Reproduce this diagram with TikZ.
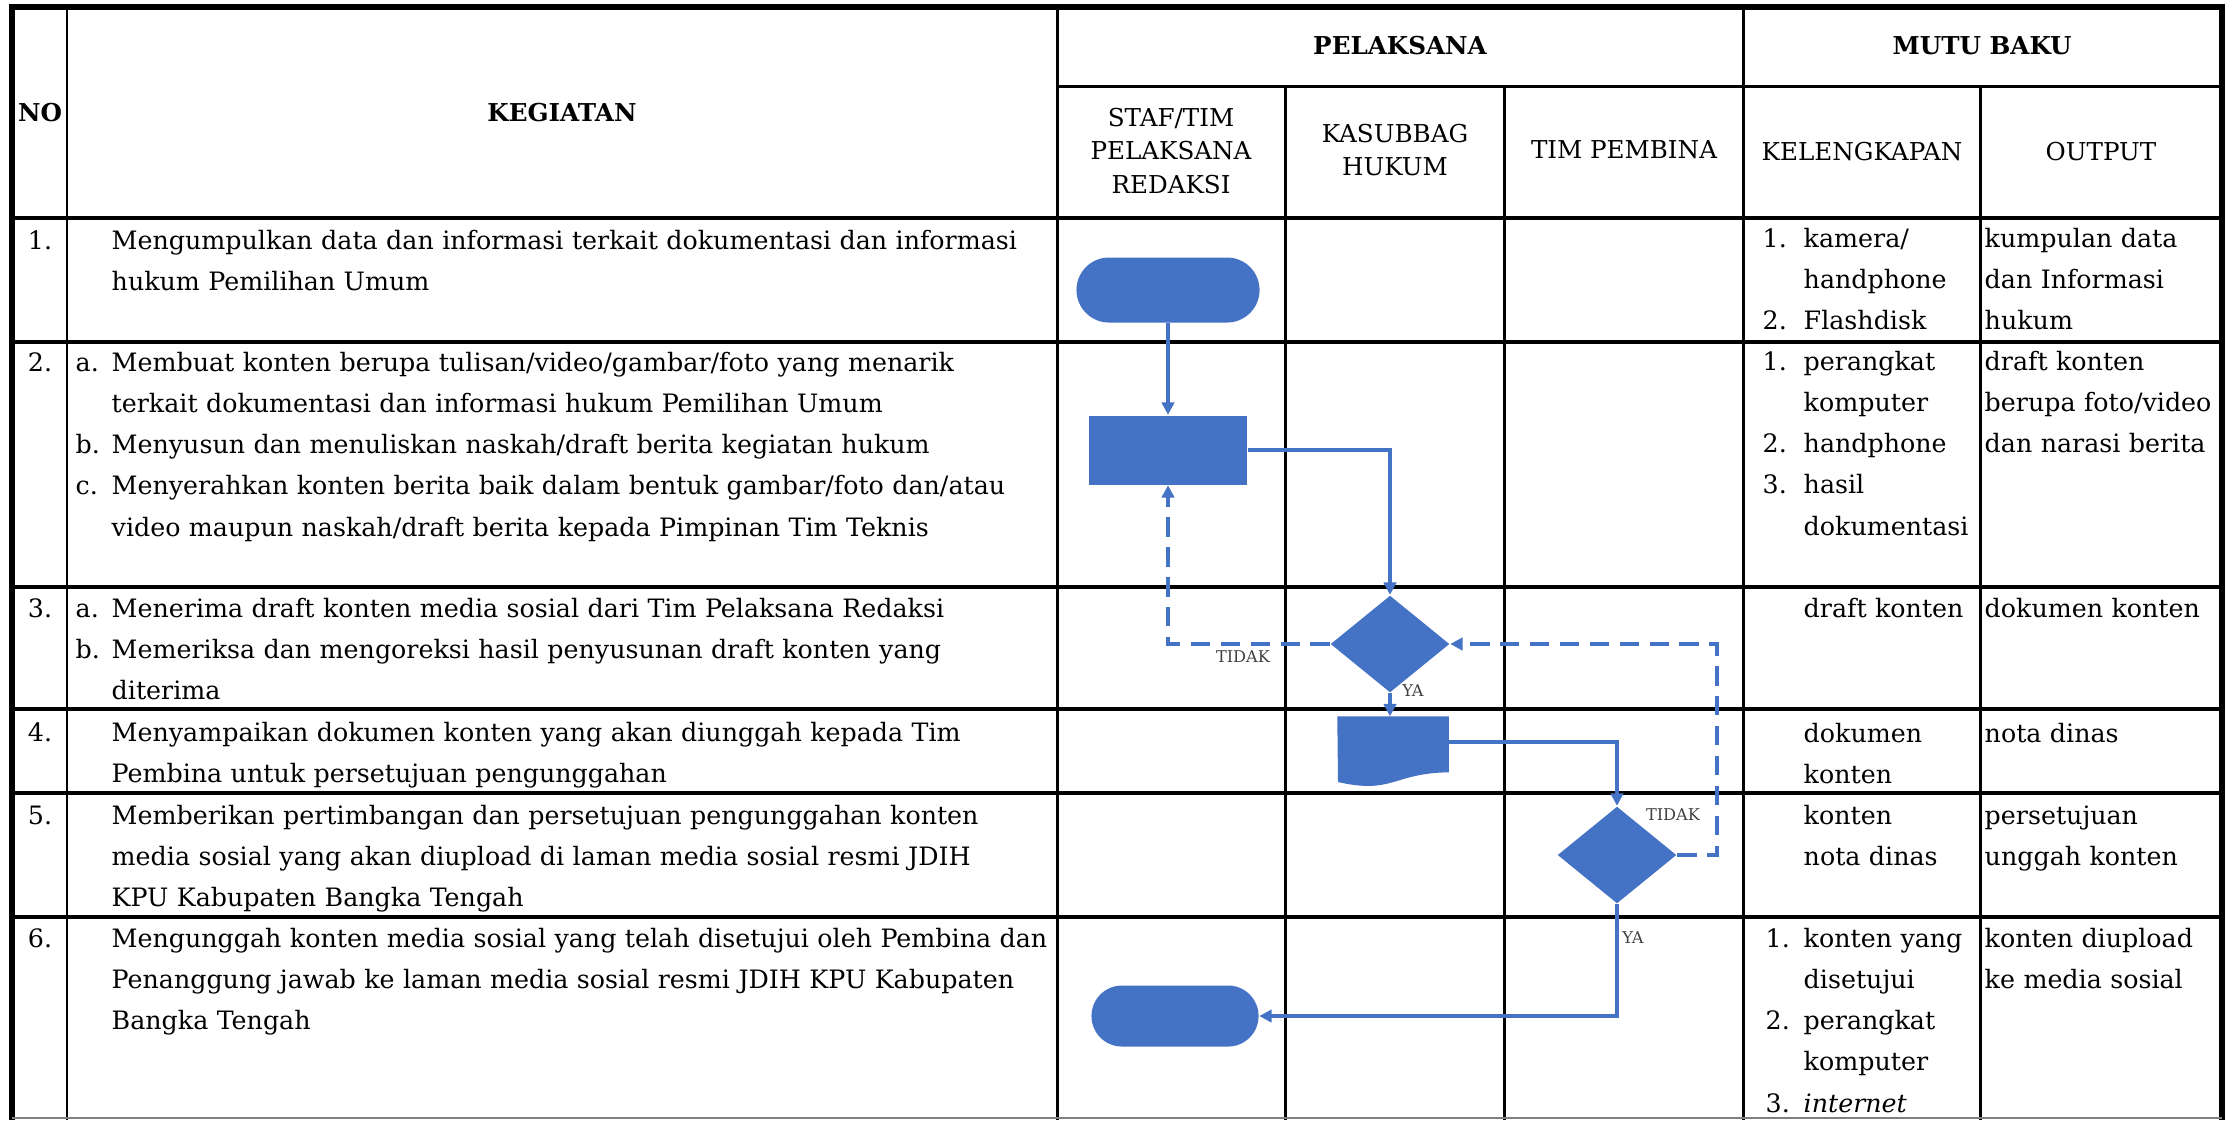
\documentclass[tikz,border=0pt]{standalone}
\usepackage{fontspec}
\setmainfont{DejaVu Serif}
\usetikzlibrary{arrows.meta,shapes.geometric,shapes.misc}
\definecolor{flowblue}{RGB}{68,114,196}

\begin{document}
\begin{tikzpicture}[x=0.01cm,y=-0.01cm,font=\fontsize{7.2}{11.75}\selectfont,
ln/.style={line width=.85pt},
rowln/.style={line width=1pt},
rim/.style={line width=1.5pt},
txt/.style={anchor=base west,inner sep=0pt,align=left,text width=#1,font=\fontsize{7.2}{11.75}\selectfont},
num/.style={anchor=base,inner sep=0pt,font=\fontsize{7.2}{11.75}\selectfont},
hd/.style={font=\fontsize{7}{9.4}\selectfont,align=center,inner sep=0pt},
bhd/.style={font=\fontsize{7}{9.4}\bfseries\selectfont,inner sep=0pt},
term/.style={rounded rectangle,fill=flowblue,minimum width=1.83cm,minimum height=.65cm,inner sep=0pt},
proc/.style={rectangle,fill=flowblue,minimum width=1.58cm,minimum height=.69cm,inner sep=0pt},
dec/.style={diamond,fill=flowblue,minimum width=1.19cm,minimum height=.97cm,inner sep=0pt},
flow/.style={-{Triangle[length=3.5pt,width=3.5pt]},line width=.9pt,draw=flowblue},
retry/.style={flow,dash pattern=on 5.5pt off 3pt},
tag/.style={font=\fontsize{4.6}{5}\selectfont,text=black!75,inner sep=0pt}]
\useasboundingbox(0,0)rectangle(2231,1120);

\draw[ln](1057,86)--(2222,86);
\foreach \y in {218,342,587,709,793,917} \draw[rowln](12,\y)--(2222,\y);
\foreach \x in {67,1057,1743} \draw[ln](\x,7)--(\x,1120);
\foreach \x in {1285,1504,1980} \draw[ln](\x,86)--(\x,1120);
\draw[rim](12,1120)--(12,7)--(2222,7)--(2222,1120);
\draw[gray,line width=.4pt](12,1118)--(2222,1118);

\node[bhd](no)at(40,113){NO};
\node[bhd](keg)at(562,113){KEGIATAN};
\node[bhd](pel)at(1400,46){PELAKSANA};
\node[bhd](mutu)at(1982,46){MUTU BAKU};
\node[hd](staf)at(1171,151){STAF/TIM\\PELAKSANA\\REDAKSI};
\node[hd](kasub)at(1395,150){KASUBBAG\\HUKUM};
\node[hd](pemb)at(1624,150){TIM PEMBINA};
\node[hd](lengkap)at(1862,152){KELENGKAPAN};
\node[hd](outp)at(2101,152){OUTPUT};

\node[num](n1)at(40,249){1.};
\node[txt=9.4cm](k1)at(111,249){Mengumpulkan data dan informasi terkait dokumentasi dan informasi\\hukum Pemilihan Umum};
\node[num](n2)at(40,371){2.};
\node[txt=.5cm](l2)at(75,371){a.\\\mbox{}\\b.\\c.};
\node[txt=9.4cm](k2)at(111,371){Membuat konten berupa tulisan/video/gambar/foto yang menarik\\terkait dokumentasi dan informasi hukum Pemilihan Umum\\Menyusun dan menuliskan naskah/draft berita kegiatan hukum\\Menyerahkan konten berita baik dalam bentuk gambar/foto dan/atau\\video maupun naskah/draft berita kepada Pimpinan Tim Teknis};
\node[num](n3)at(40,617){3.};
\node[txt=.5cm](l3)at(75,617){a.\\b.};
\node[txt=9.4cm](k3)at(111,617){Menerima draft konten media sosial dari Tim Pelaksana Redaksi\\Memeriksa dan mengoreksi hasil penyusunan draft konten yang\\diterima};
\node[num](n4)at(40,741){4.};
\node[txt=9.4cm](k4)at(111,741){Menyampaikan dokumen konten yang akan diunggah kepada Tim\\Pembina untuk persetujuan pengunggahan};
\node[num](n5)at(40,824){5.};
\node[txt=9.4cm](k5)at(111,824){Memberikan pertimbangan dan persetujuan pengunggahan konten\\media sosial yang akan diupload di laman media sosial resmi JDIH\\KPU Kabupaten Bangka Tengah};
\node[num](n6)at(40,947){6.};
\node[txt=9.4cm](k6)at(111,947){Mengunggah konten media sosial yang telah disetujui oleh Pembina dan\\Penanggung jawab ke laman media sosial resmi JDIH KPU Kabupaten\\Bangka Tengah};

\node[txt=.4cm](m1)at(1762,247){1.\\\mbox{}\\2.};
\node[txt=1.8cm](e1)at(1803,247){kamera/\\handphone\\Flashdisk};
\node[txt=.4cm](m2)at(1762,370){1.\\\mbox{}\\2.\\3.};
\node[txt=1.8cm](e2)at(1803,370){perangkat\\komputer\\handphone\\hasil\\dokumentasi};
\node[txt=1.8cm](e3)at(1803,617){draft konten};
\node[txt=1.8cm](e4)at(1803,742){dokumen\\konten};
\node[txt=1.8cm](e5)at(1803,824){konten\\nota dinas};
\node[txt=.4cm](m6)at(1765,947){1.\\\mbox{}\\2.\\\mbox{}\\3.};
\node[txt=1.8cm](e6)at(1803,947){konten yang\\disetujui\\perangkat\\komputer\\\textit{internet}};

\node[txt=2.4cm](o1)at(1984,247){kumpulan data\\dan Informasi\\hukum};
\node[txt=2.4cm](o2)at(1984,370){draft konten\\berupa foto/video\\dan narasi berita};
\node[txt=2.4cm](o3)at(1984,617){dokumen konten};
\node[txt=2.4cm](o4)at(1984,742){nota dinas};
\node[txt=2.4cm](o5)at(1984,824){persetujuan\\unggah konten};
\node[txt=2.4cm](o6)at(1984,947){konten diupload\\ke media sosial};

\node[term](t1)at(1168,290){};
\node[proc](p1)at(1168,450){};
\node[dec](d1)at(1390,644){};
\node[minimum width=1.1cm,minimum height=.7cm,inner sep=0pt](doc)at(1393,752){};
\fill[flowblue](doc.north west)--(doc.north east)--++(0,56)..controls(1393,773)and(1393,794.5)..(1338,782)--cycle;
\node[dec](d2)at(1617,855){};
\node[term,minimum width=1.67cm,minimum height=.61cm](t2)at(1175,1016){};
\coordinate(loop)at(1717,855);

\draw[flow](t1)--(p1);
\draw[flow](p1.east)-|(d1.north);
\draw[retry](d1.west)-|(p1.south);
\draw[flow](d1.south)--(d1.south|-doc.north);
\draw[flow]([yshift=.1cm]doc.east)-|(d2.north);
\draw[retry](d2.east)--(loop)|-(d1.east);
\draw[flow](d2.south)|-(t2.east);

\node[tag](tidak1)at(1243,657){TIDAK};
\node[tag](ya1)at(1413,691){YA};
\node[tag](tidak2)at(1673,815){TIDAK};
\node[tag](ya2)at(1633,938){YA};
\end{tikzpicture}
\end{document}
